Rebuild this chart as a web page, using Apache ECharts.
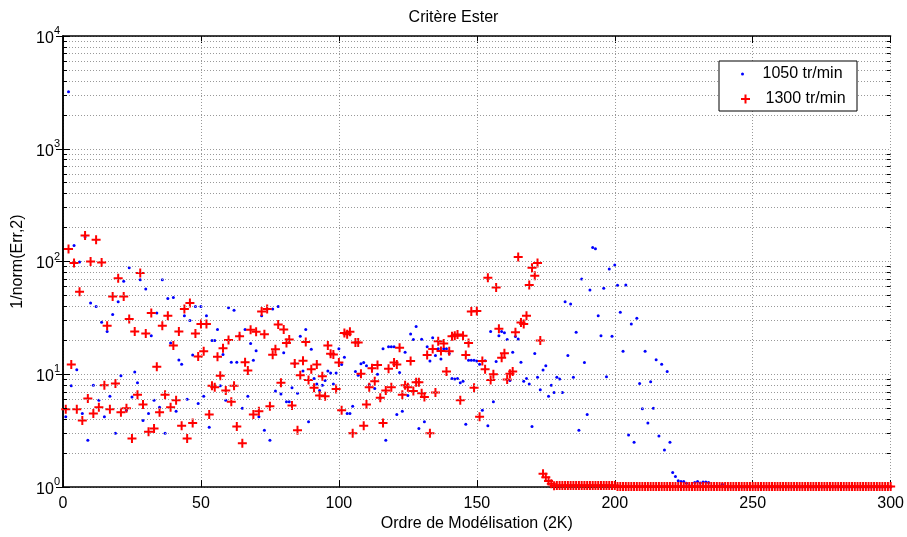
<!DOCTYPE html>
<html lang="fr">
<head>
<meta charset="UTF-8">
<title>Critère Ester</title>
<script src="https://cdn.jsdelivr.net/npm/echarts@6/dist/echarts.min.js"></script>
<style>
  html, body { margin: 0; padding: 0; background: #fff; }
  #main { width: 907px; height: 537px; }
</style>
</head>
<body>
<div id="main"></div>
<script>
// valeurs, ordre 1..300
var rpm1050 = [
  4.2, 3200, 7.9, 139, 11, 99, 4.5, 165, 2.6, 43,
  8.0, 40, 5.9, 29, 4.2, 24, 6.4, 34, 3.0, 44,
  9.7, 67, 4.8, 88, 6.3, 10.5, 8.4, 69, 3.9, 57,
  4.5, 22, 5.9, 35, 5.1, 69, 3.0, 47, 19, 48,
  4.7, 13.4, 12.3, 33, 6.0, 30, 14.8, 40, 5.5, 40,
  6.4, 33, 3.4, 20, 20, 25, 7.9, 15, 5.9, 39,
  12.8, 37, 12.8, 22, 5.0, 25, 6.4, 18.8, 13.3, 16.2,
  4.2, 33, 3.2, 38, 2.6, 38, 7.1, 40, 6.7, 15.5,
  5.7, 5.7, 7.6, 12.5, 6.8, 21.8, 10.7, 25, 3.8, 16.7,
  9.2, 8.2, 7.2, 8, 8.8, 10.7, 10.3, 8.2, 10.3, 16.9,
  12.2, 14.2, 4.5, 4.5, 5.2, 10.6, 9.8, 12.4, 12.7, 11.9,
  8.1, 11.3, 7.5, 10, 6.2, 16.9, 2.6, 17.6, 17.6, 17.6,
  4.4, 10.4, 4.7, 15.7, 6.5, 22.8, 20.4, 26.6, 3.3, 20.5,
  3.8, 17.6, 13.1, 21.1, 14.7, 16.9, 13.7, 16.9, 16.9, 15.3,
  9.2, 9.1, 9.2, 8.4, 8.7, 3.6, 13.3, 13.3, 13.3, 13.1,
  12.3, 4.8, 13.2, 3.5, 24, 5.7, 13, 22, 24, 23.4,
  20.4, 8.8, 15.7, 21.6, 20.6, 12.8, 8.7, 9.2, 8.2, 3.45,
  15.3, 9.4, 7.3, 10.9, 11.9, 6.4, 8.0, 6.9, 9.4, 9.1,
  6.9, 44, 14.7, 42, 9.4, 23.6, 3.2, 70, 12.7, 4.4,
  56, 133, 130, 33, 22, 58, 9.5, 86, 21.8, 93,
  61.5, 35.5, 16, 62, 2.9, 28, 2.5, 31.5, 8.3, 4.95,
  16, 3.7, 8.6, 5.0, 13.5, 2.84, 12.3, 2.13, 10.6, 2.5,
  1.35, 1.24, 1.14, 1.12, 1.12, 1.08, 1.03, 1.03, 1.1, 1.12,
  1.09, 1.11, 1.11, 1.1, 1.02, 1.02, 1.02, 1.02, 1.06, 1.0,
  1.0, 1.0, 1.0, 1.0, 1.0, 1.0, 1.0, 1.0, 1.0, 1.0,
  1.0, 1.0, 1.0, 1.0, 1.0, 1.0, 1.0, 1.0, 1.0, 1.0,
  1.0, 1.0, 1.0, 1.0, 1.0, 1.0, 1.0, 1.0, 1.0, 1.0,
  1.0, 1.0, 1.0, 1.0, 1.0, 1.0, 1.0, 1.0, 1.0, 1.0,
  1.0, 1.0, 1.0, 1.0, 1.0, 1.0, 1.0, 1.0, 1.0, 1.0,
  1.0, 1.0, 1.0, 1.0, 1.0, 1.0, 1.0, 1.0, 1.0, 1.0
];
var rpm1300 = [
  4.9, 129, 12.2, 97, 4.9, 54, 3.9, 170, 6.1, 100,
  4.5, 156, 5.1, 98, 8.0, 27, 4.9, 49, 8.3, 71,
  4.6, 49, 5.0, 31, 2.7, 24, 6.6, 79, 5.4, 23,
  3.1, 35, 3.3, 11.7, 4.6, 27, 6.6, 33, 5.1, 18,
  5.9, 24, 3.5, 38, 2.7, 43, 3.7, 23, 14.4, 28,
  16, 28, 4.4, 7.9, 7.7, 14.3, 9.7, 17, 7.2, 20.2,
  5.7, 7.9, 3.45, 21.8, 2.45, 12.8, 10.8, 24.9, 4.4, 23.9,
  4.7, 36, 22.7, 38, 5.2, 14.9, 16.7, 27.6, 8.4, 25,
  19, 20.4, 5.3, 12.5, 3.2, 9.8, 13.2, 19.3, 8.9, 11.1,
  7.6, 12.2, 6.5, 9.6, 6.4, 18, 15.2, 15, 7.4, 12.7,
  4.8, 23.3, 22.7, 23.8, 3.0, 19.2, 19.2, 10.1, 3.5, 5.4,
  7.7, 11.3, 8.7, 12.1, 6.2, 3.7, 7.2, 11.2, 7.7, 12.7,
  12.2, 17.2, 6.6, 8, 7.7, 13.1, 7.1, 8.5, 8.5, 6.8,
  6.3, 14.8, 3.0, 16.8, 6.9, 19.6, 16.1, 18.8, 10.6, 16,
  21.8, 22, 22.5, 5.9, 22, 14.8, 19, 36, 7.6, 36.5,
  4.2, 13.1, 11.1, 72, 8.9, 10, 59, 25.4, 14, 15.4,
  9.0, 10.1, 10.6, 23.6, 110, 28.8, 27.9, 33, 62, 88,
  75, 97, 20, 1.31, 1.22, 1.135, 1.07, 1.03, 1.035, 1.035,
  1.035, 1.035, 1.035, 1.035, 1.035, 1.035, 1.035, 1.035, 1.035, 1.035,
  1.035, 1.035, 1.035, 1.035, 1.035, 1.035, 1.035, 1.035, 1.035, 1.035,
  1.01, 1.01, 1.01, 1.01, 1.01, 1.01, 1.01, 1.01, 1.01, 1.01,
  1.01, 1.01, 1.01, 1.01, 1.01, 1.01, 1.01, 1.01, 1.01, 1.01,
  1.01, 1.01, 1.01, 1.01, 1.01, 1.01, 1.01, 1.01, 1.01, 1.01,
  1.01, 1.01, 1.01, 1.01, 1.01, 1.01, 1.01, 1.01, 1.01, 1.01,
  1.01, 1.01, 1.01, 1.01, 1.01, 1.01, 1.01, 1.01, 1.01, 1.01,
  1.01, 1.01, 1.01, 1.01, 1.01, 1.01, 1.01, 1.01, 1.01, 1.01,
  1.01, 1.01, 1.01, 1.01, 1.01, 1.01, 1.01, 1.01, 1.01, 1.01,
  1.01, 1.01, 1.01, 1.01, 1.01, 1.01, 1.01, 1.01, 1.01, 1.01,
  1.01, 1.01, 1.01, 1.01, 1.01, 1.01, 1.01, 1.01, 1.01, 1.01,
  1.01, 1.01, 1.01, 1.01, 1.01, 1.01, 1.01, 1.01, 1.01, 1.01
];
var names = ['1050 tr/min', '1300 tr/min'];
var xMin = 0, xMax = 300, xStep = 50;
var yMin = 1, yMax = 10000;

var font = 'Liberation Sans, Arial, Helvetica, sans-serif';
var plusPath = 'path://M3.5,0H5.5V3.5H9V5.5H5.5V9H3.5V5.5H0V3.5H3.5Z';
var gridLine = { type: [1, 2], color: '#999999', width: 1 };

function toPairs(vals) {
  var out = [];
  for (var i = 0; i < vals.length; i++) out.push([i + 1, vals[i]]);
  return out;
}

// grille mineure et petites graduations du log (2..9 x 10^k)
var minorGrid = [], minorTicks = [];
for (var k = 0; k < 4; k++) {
  for (var m = 2; m <= 9; m++) {
    var v = m * Math.pow(10, k);
    minorGrid.push({ yAxis: v });
    minorTicks.push([{ coord: [xMin, v] }, { coord: [xMin + 1.45, v] }]);
    minorTicks.push([{ coord: [xMax - 1.45, v] }, { coord: [xMax, v] }]);
  }
}

var myChart = echarts.init(document.getElementById('main'));

var option = {
  animation: false,
  textStyle: { fontFamily: font },
  title: {
    text: 'Critère Ester',
    left: 'center', top: 5,
    textStyle: { fontFamily: font, fontSize: 16, fontWeight: 'normal', color: '#000' }
  },
  grid: { left: 63, right: 16, top: 36, bottom: 43 },
  graphic: [{
    type: 'rect', z: 50,
    shape: { x: 719, y: 61, width: 138, height: 50 },
    style: { fill: '#fff', stroke: '#000', lineWidth: 1 }
  }],
  legend: [{
    data: [{ name: names[0], icon: 'circle' }],
    left: 741, top: 66, padding: 0, z: 60,
    itemWidth: 30, itemHeight: 3, selectedMode: false,
    textStyle: { fontFamily: font, fontSize: 16, color: '#000' }
  }, {
    data: [{ name: names[1], icon: plusPath }],
    left: 741, top: 91, padding: 0, z: 60,
    itemWidth: 30, itemHeight: 9, selectedMode: false,
    textStyle: { fontFamily: font, fontSize: 16, color: '#000' }
  }],
  xAxis: [{
    type: 'value', min: xMin, max: xMax, interval: xStep,
    name: 'Ordre de Modélisation (2K)', nameLocation: 'middle', nameGap: 20,
    nameTextStyle: { fontFamily: font, fontSize: 16, color: '#000', verticalAlign: 'top' },
    axisLine: { lineStyle: { color: '#000', width: 1.5 } },
    axisTick: { inside: true, length: 7, lineStyle: { color: '#000' } },
    axisLabel: { fontFamily: font, fontSize: 16, color: '#000', margin: 8 },
    splitLine: { show: true, lineStyle: gridLine }
  }, {
    type: 'value', min: xMin, max: xMax, interval: xStep, position: 'top',
    axisLine: { show: true, lineStyle: { color: '#000', width: 1.5 } },
    axisTick: { show: true, inside: true, length: 7, lineStyle: { color: '#000' } },
    axisLabel: { show: false },
    splitLine: { show: false }
  }],
  yAxis: [{
    type: 'log', logBase: 10, min: yMin, max: yMax,
    name: '1/norm(Err,2)', nameLocation: 'middle', nameGap: 36,
    nameTextStyle: { fontFamily: font, fontSize: 16, color: '#000' },
    axisLine: { show: true, lineStyle: { color: '#000', width: 1.5 } },
    axisTick: { show: true, inside: true, length: 7, lineStyle: { color: '#000' } },
    axisLabel: {
      margin: 3,
      formatter: function (val) {
        return '{b|10}{s|' + Math.round(Math.log10(val)) + '}';
      },
      rich: {
        b: { fontFamily: font, fontSize: 16, color: '#000', lineHeight: 21, verticalAlign: 'bottom' },
        s: { fontFamily: font, fontSize: 11, color: '#000', verticalAlign: 'top' }
      }
    },
    splitLine: { show: true, lineStyle: gridLine }
  }, {
    type: 'log', logBase: 10, min: yMin, max: yMax, position: 'right',
    axisLine: { show: true, lineStyle: { color: '#000', width: 1.5 } },
    axisTick: { show: true, inside: true, length: 7, lineStyle: { color: '#000' } },
    axisLabel: { show: false },
    splitLine: { show: false }
  }],
  series: [{
    name: 'grille',
    type: 'scatter', z: 1, silent: true,
    symbolSize: 0,
    data: [],
    markLine: {
      silent: true, symbol: 'none', animation: false,
      label: { show: false },
      lineStyle: gridLine,
      data: minorGrid
    }
  }, {
    name: 'graduations',
    type: 'scatter', z: 1, silent: true,
    symbolSize: 0,
    data: [],
    markLine: {
      silent: true, symbol: 'none', animation: false,
      label: { show: false },
      lineStyle: { type: 'solid', color: '#000', width: 1 },
      data: minorTicks
    }
  }, {
    name: names[0],
    type: 'scatter', z: 3,
    symbol: 'circle', symbolSize: 3,
    itemStyle: { color: '#0000ff', opacity: 1 },
    data: toPairs(rpm1050)
  }, {
    name: names[1],
    type: 'scatter', z: 4,
    symbol: plusPath, symbolSize: 9,
    itemStyle: { color: '#ff0000', opacity: 1 },
    data: toPairs(rpm1300)
  }]
};
myChart.setOption(option);
</script>
</body>
</html>
